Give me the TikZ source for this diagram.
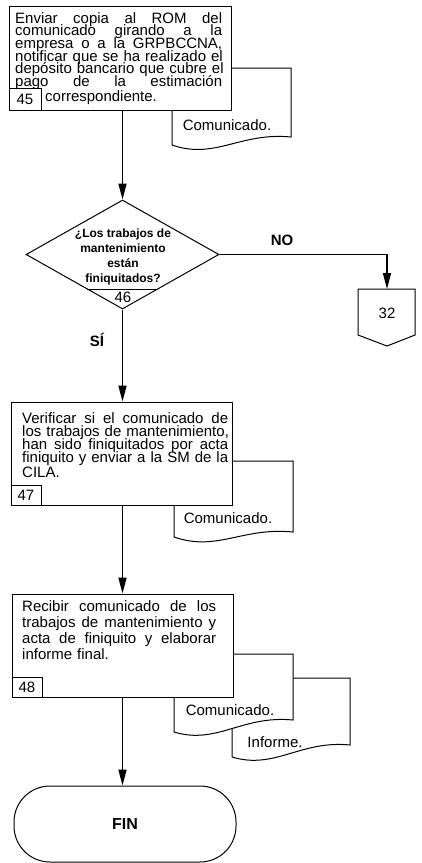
\documentclass[tikz,border=0pt]{standalone}
\usepackage{fontspec}
\setmainfont{Liberation Sans}
\usetikzlibrary{arrows.meta,shapes.geometric,calc}
\newcommand{\justline}[2]{\leavevmode\makebox[#1][l]{#2}}
\newcommand{\wgap}{ \hfill}
\newcommand{\tightlines}{\lineskiplimit=-100pt\relax}
\begin{document}
\begin{tikzpicture}[x=1pt,y=-1pt,
  fig/.style={draw,line width=1pt,fill=white},
  proc/.style={fig,rectangle,inner sep=0pt},
  num/.style={fig,rectangle,inner sep=0pt,font=\fontsize{15}{15}\selectfont},
  flow/.style={line width=1.5pt,-{Triangle[length=16pt,width=8pt]}},
  body/.style={inner sep=0pt,anchor=north west,align=left},
  lbl/.style={font=\fontsize{15}{15}\selectfont\bfseries,inner sep=0pt},
  doctxt/.style={font=\fontsize{15}{15}\selectfont,inner sep=0pt}]
\useasboundingbox (0,0) rectangle (421,863);

% ---- step 45 ----
\draw[fig] (172,68) -- (291,68) -- (291,137) .. controls (240,132) and (215,160) .. (172,145) -- cycle;
\node[doctxt] (doc45) at (227,125) {Comunicado.};
\node[proc,minimum width=222pt,minimum height=104pt] (b45) at (120,58) {};
\node[body,text width=207pt,font=\fontsize{15}{12.7}\selectfont] (t45) at (15,12)
 {\tightlines\justline{207pt}{Enviar\wgap copia\wgap al\wgap ROM\wgap del}\\
  \justline{207pt}{comunicado\wgap girando\wgap a\wgap la}\\
  \justline{207pt}{empresa\wgap o\wgap a\wgap la\wgap GRPBCCNA,}\\
  \justline{207pt}{notificar\wgap que\wgap se\wgap ha\wgap realizado\wgap el}\\
  \justline{207pt}{depósito\wgap bancario\wgap que\wgap cubre\wgap el}\\
  \justline{207pt}{pago\wgap de\wgap la\wgap estimación}\\
  \hspace*{30pt}correspondiente.};
\node[num,minimum width=32pt,minimum height=22pt] (n45) at (25,99) {45};

% ---- decision 46 ----
\node[fig,diamond,inner sep=0pt,minimum width=193pt,minimum height=109pt] (d46) at (122.5,254.5) {};
\node[font=\fontsize{12}{15}\selectfont\bfseries,align=center,inner sep=0pt] (q46) at (123,257)
 {¿Los trabajos de\\mantenimiento\\están\\finiquitados?};
\draw[line width=1pt] ($(d46.south)!0.37!(d46.west)$) -- ($(d46.south)!0.37!(d46.east)$);
\node[doctxt] (n46) at (123,297) {46};
\node[lbl] (no) at (282,240) {NO};
\node[lbl] (si) at (97,340) {SÍ};

% ---- connector 32 ----
\draw[fig] (358,289) -- (415,289) -- (415,335) -- (387,346) -- (358,335) -- cycle;
\coordinate (c32top) at (387,289);
\node[doctxt] (c32) at (387,313) {32};

% ---- step 47 ----
\draw[fig] (174,461) -- (293,461) -- (293,532) .. controls (242,527) and (217,552) .. (174,537) -- cycle;
\node[doctxt] (doc47) at (228,518) {Comunicado.};
\node[proc,minimum width=221pt,minimum height=103pt] (b47) at (121.5,453.5) {};
\node[body,text width=206pt,font=\fontsize{15}{13.3}\selectfont] (t47) at (22,412)
 {\tightlines\justline{206pt}{Verificar\wgap si\wgap el\wgap comunicado\wgap de}\\
  \justline{206pt}{los\wgap trabajos\wgap de\wgap mantenimiento,}\\
  \justline{206pt}{han\wgap sido\wgap finiquitados\wgap por\wgap acta}\\
  \justline{206pt}{finiquito\wgap y\wgap enviar\wgap a\wgap la\wgap SM\wgap de\wgap la}\\
  CILA.};
\node[num,minimum width=30pt,minimum height=20pt] (n47) at (26,495) {47};

% ---- step 48 ----
\draw[fig] (232,678) -- (350,678) -- (350,745) .. controls (300,740) and (275,770) .. (232,757) -- cycle;
\node[doctxt] (inf48) at (275,742) {Informe.};
\draw[fig] (174,654) -- (293,654) -- (293,720) .. controls (242,715) and (217,745) .. (174,732) -- cycle;
\node[doctxt] (doc48) at (230,710) {Comunicado.};
\node[proc,minimum width=221pt,minimum height=103pt] (b48) at (122.5,645.5) {};
\node[body,text width=194pt,font=\fontsize{15}{16}\selectfont] (t48) at (22,600)
 {\tightlines\justline{194pt}{Recibir\wgap comunicado\wgap de\wgap los}\\
  \justline{194pt}{trabajos\wgap de\wgap mantenimiento\wgap y}\\
  \justline{194pt}{acta\wgap de\wgap finiquito\wgap y\wgap elaborar}\\
  informe final.};
\node[num,minimum width=30pt,minimum height=20pt] (n48) at (27,687) {48};

% ---- end ----
\node[fig,rounded corners=36pt,minimum width=222pt,minimum height=76pt,font=\fontsize{16}{16}\selectfont\bfseries] (fin) at (125,824) {FIN};

% ---- connectors ----
\draw[flow] (d46.north |- b45.south) -- (d46.north);
\draw[flow] (d46.east) -| (c32top);
\draw[flow] (d46.south) -- (d46.south |- b47.north);
\draw[flow] (d46.south |- b47.south) -- (d46.south |- b48.north);
\draw[flow] (d46.south |- b48.south) -- (d46.south |- fin.north);
\end{tikzpicture}
\end{document}
